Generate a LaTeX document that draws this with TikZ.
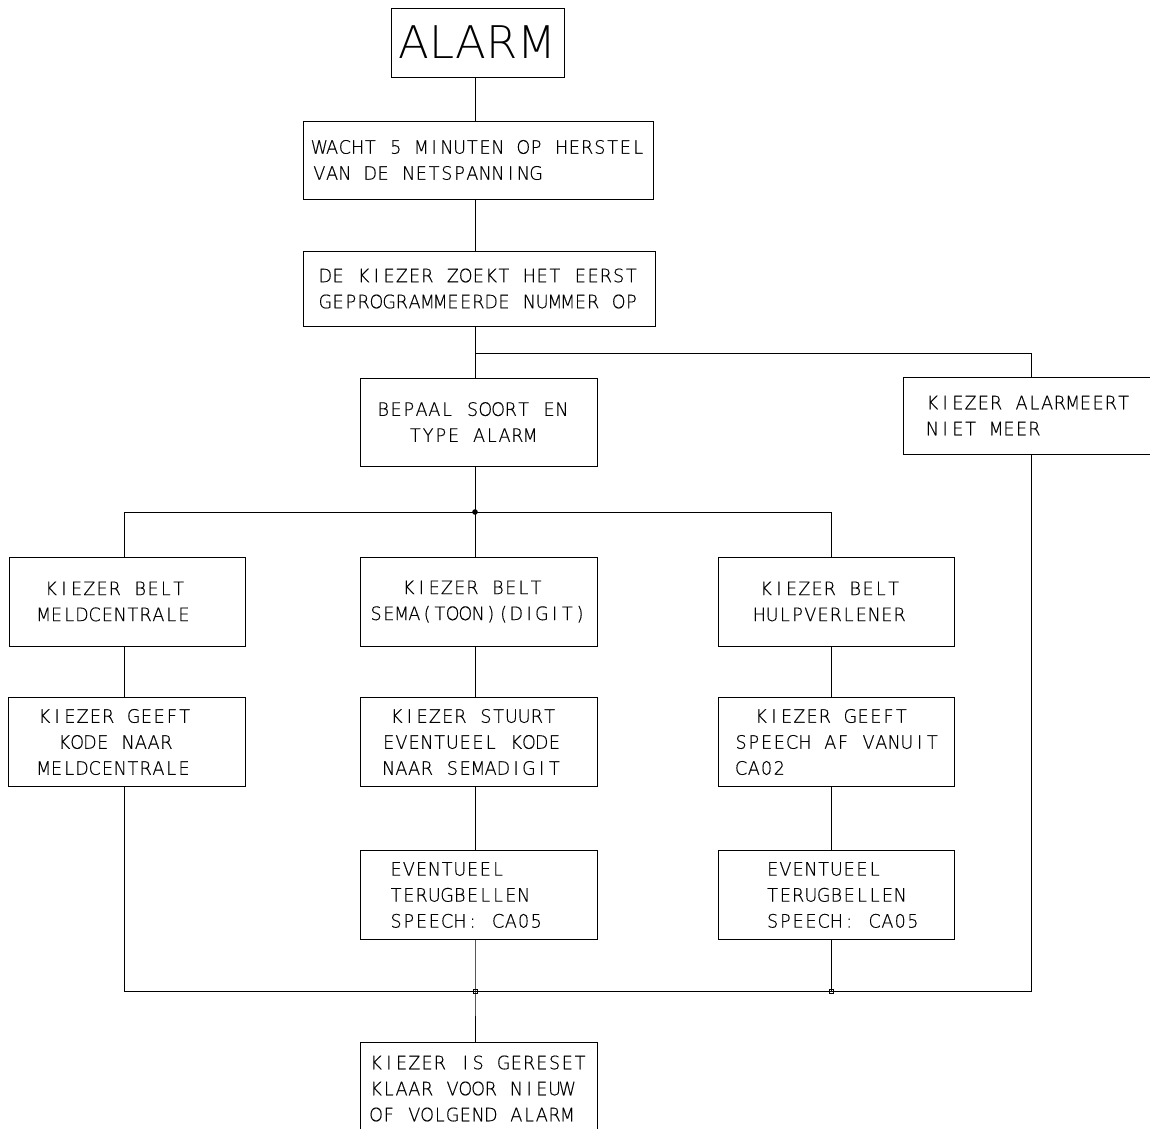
\documentclass[tikz,border=0pt]{standalone}
\usepackage{fontspec}
\newfontfamily\plotfont{DejaVu Sans ExtraLight}[FakeStretch=0.95,FakeBold=0.4]
\newfontfamily\bigplotfont{DejaVu Sans ExtraLight}
\ExplSyntaxOn
\NewDocumentCommand\mono{m}{\str_map_inline:nn{#1}{\makebox[12.75pt][c]{##1}}}
\ExplSyntaxOff
\begin{document}
\begin{tikzpicture}[x=1pt,y=-1pt,
  box/.style={draw, line width=1pt, inner sep=0pt},
  lbl/.style={font=\plotfont\fontsize{18.5}{26}\selectfont, inner sep=0pt, align=left},
  conn/.style={line width=1pt},
  dims/.style 2 args={minimum width=#1pt, minimum height=#2pt}]
\useasboundingbox (0,0) rectangle (1150,1128);
\clip (0,0) rectangle (1150,1128);
\coordinate (colL) at (124,0);
\coordinate (colM) at (475,0);
\coordinate (colR) at (831,0);
\coordinate (colN) at (1031,0);
\coordinate (s1) at (0,353);
\coordinate (s2) at (0,512);
\coordinate (s3) at (0,991);

\node[box, dims={173}{69}, font=\bigplotfont\fontsize{45}{50}\selectfont] (alarm) at (477.5,42.5) {ALARM};
\node[box, dims={350}{78}, label={[lbl, xshift=0.75pt]center:{\mono{WACHT 5 MINUTEN OP HERSTEL}\\\mono{VAN DE NETSPANNING}}}] (wacht) at (478,160) {};
\node[box, dims={352}{75}, label={[lbl, xshift=-0.6pt]center:{\mono{DE KIEZER ZOEKT HET EERST}\\\mono{GEPROGRAMMEERDE NUMMER OP}}}] (zoek) at (479,288.5) {};
\node[box, dims={237}{88}, label={[lbl, xshift=-5.9pt]center:{\mono{BEPAAL SOORT EN}\\\hspace*{32pt}\mono{TYPE ALARM}}}] (bepaal) at (478.5,422) {};
\node[box, dims={256}{77}, label={[lbl, xshift=-3pt]center:{\mono{KIEZER ALARMEERT}\\\mono{NIET MEER}}}] (niet) at (1031,415.5) {};

\node[box, dims={236}{89}, label={[lbl, xshift=-13.2pt]center:{\hspace*{7.4pt}\mono{KIEZER BELT}\\\mono{MELDCENTRALE}}}] (r1l) at (127,601.5) {};
\node[box, dims={237}{89}, label={[lbl, xshift=-0.4pt]center:{\hspace*{32.6pt}\mono{KIEZER BELT}\\\mono{SEMA(TOON)(DIGIT)}}}] (r1m) at (478.5,601.5) {};
\node[box, dims={236}{89}, label={[lbl, xshift=-6.5pt]center:{\hspace*{6.7pt}\mono{KIEZER BELT}\\\mono{HULPVERLENER}}}] (r1r) at (836,601.5) {};

\node[box, dims={237}{89}, label={[lbl, xshift=-12.8pt]center:{\hspace*{0.7pt}\mono{KIEZER GEEFT}\\\hspace*{20.7pt}\mono{KODE NAAR}\\\mono{MELDCENTRALE}}}] (r2l) at (127,742) {};
\node[box, dims={237}{89}, label={[lbl, xshift=-6.95pt]center:{\hspace*{8pt}\mono{KIEZER STUURT}\\\mono{EVENTUEEL KODE}\\\mono{NAAR SEMADIGIT}}}] (r2m) at (478.5,742) {};
\node[box, dims={236}{89}, label={[lbl, xshift=0.7pt]center:{\hspace*{20pt}\mono{KIEZER GEEFT}\\\mono{SPEECH AF VANUIT}\\\mono{CA02}}}] (r2r) at (836,742) {};

\node[box, dims={237}{89}, label={[lbl, xshift=-12.3pt]center:{\mono{EVENTUEEL}\\\mono{TERUGBELLEN}\\\mono{SPEECH: CA05}}}] (r3m) at (478.5,895) {};
\node[box, dims={236}{89}, label={[lbl, xshift=6.8pt]center:{\mono{EVENTUEEL}\\\mono{TERUGBELLEN}\\\mono{SPEECH: CA05}}}] (r3r) at (836,895) {};

\node[box, dims={237}{93}, label={[lbl, xshift=-0.4pt]center:{\mono{KIEZER IS GERESET}\\\mono{KLAAR VOOR NIEUW}\\\mono{OF VOLGEND ALARM}}}] (final) at (478.5,1088.5) {};

% connectors
\draw[conn] (alarm.south -| colM) -- (wacht.north -| colM);
\draw[conn] (wacht.south -| colM) -- (zoek.north -| colM);
\draw[conn] (zoek.south -| colM) -- (bepaal.north -| colM);
\draw[conn] (s1 -| colM) -| (niet.north);
\draw[conn] (bepaal.south -| colM) -- (s2 -| colM);
\draw[conn] (r1l.north -| colL) |- (s2 -| colM) -| (r1r.north -| colR);
\draw[conn] (s2 -| colM) -- (r1m.north -| colM);
\draw[conn] (r1l.south -| colL) -- (r2l.north -| colL);
\draw[conn] (r1m.south -| colM) -- (r2m.north -| colM);
\draw[conn] (r1r.south -| colR) -- (r2r.north -| colR);
\draw[conn] (r2m.south -| colM) -- (r3m.north -| colM);
\draw[conn] (r2r.south -| colR) -- (r3r.north -| colR);
\draw[conn] (r2l.south -| colL) |- (s3 -| colN) -- (niet.south);
\draw[conn] (r3m.south -| colM) -- (s3 -| colM) -- (final.north -| colM);
\draw[conn] (r3r.south -| colR) -- (s3 -| colR);

% junction marks
\fill (s2 -| colM) circle (2.8pt);
\draw[line width=0.8pt] ([shift={(-2,-2)}]s3 -| colM) rectangle ([shift={(2,2)}]s3 -| colM);
\draw[line width=0.8pt] ([shift={(-2,-2)}]s3 -| colR) rectangle ([shift={(2,2)}]s3 -| colR);
\end{tikzpicture}
\end{document}
